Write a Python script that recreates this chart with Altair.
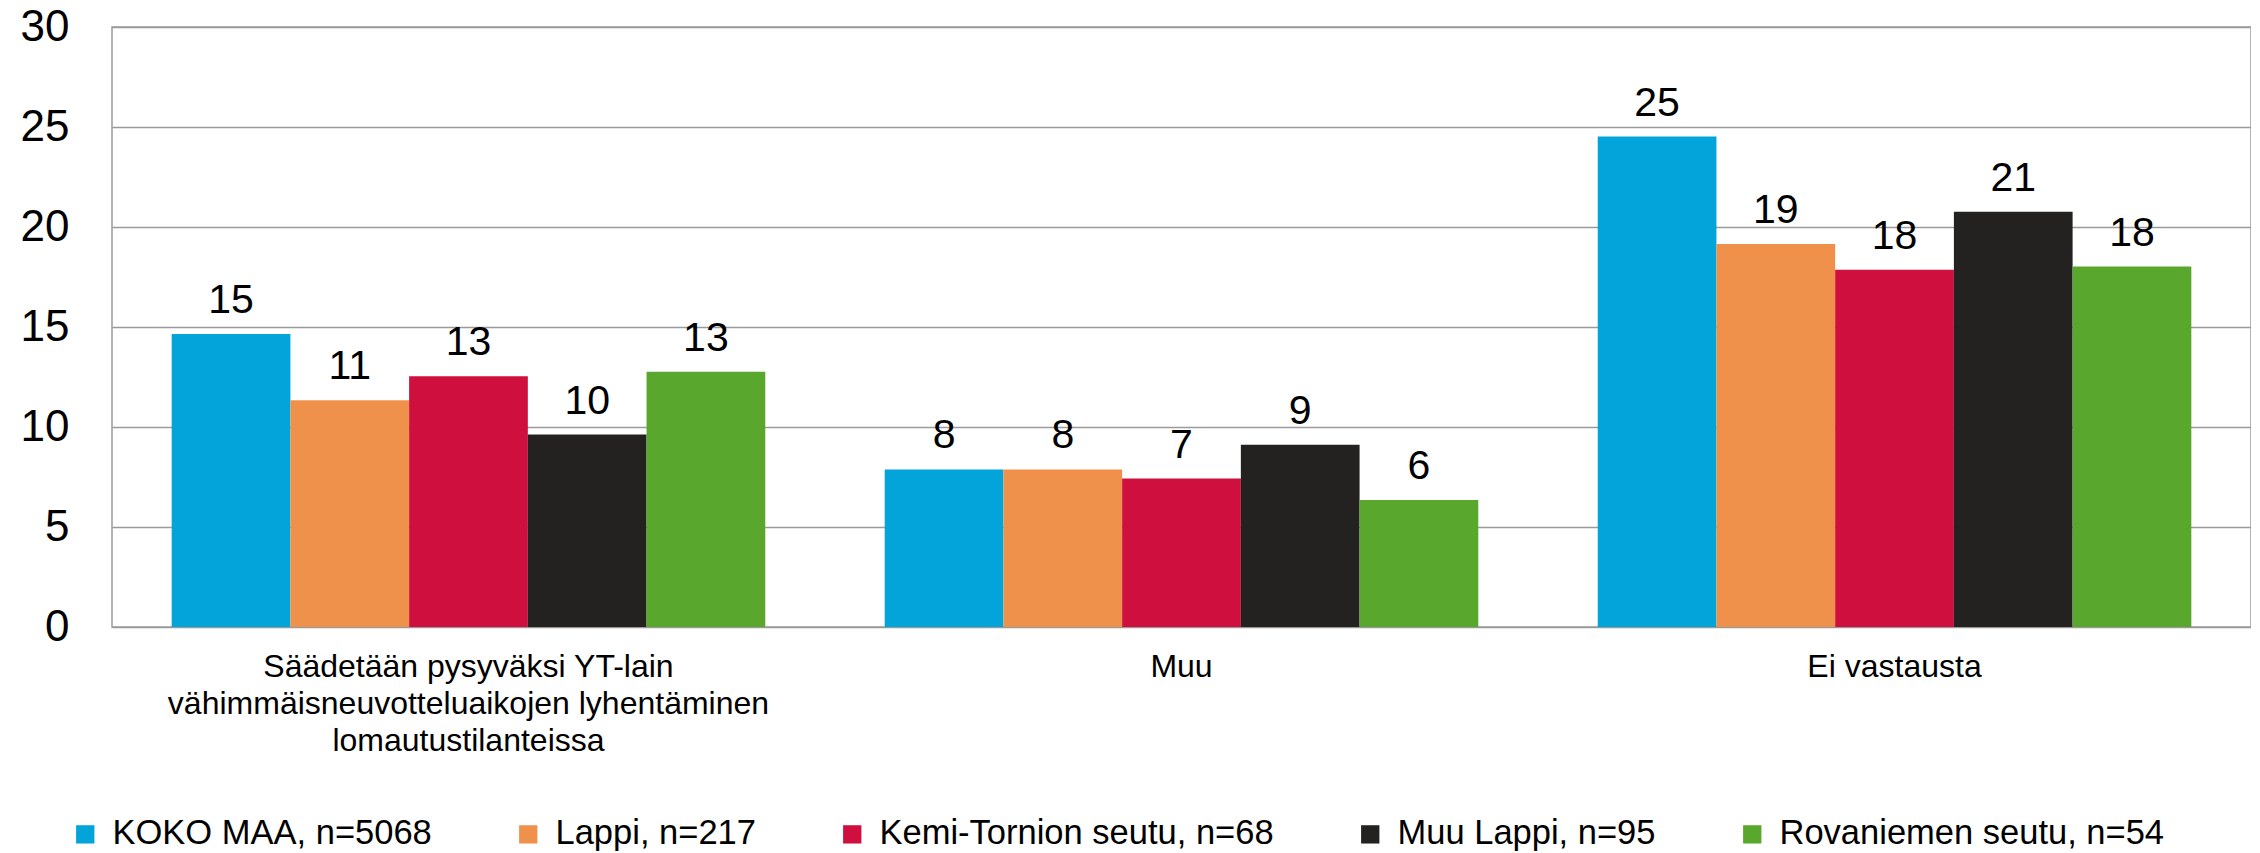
import altair as alt
import pandas as pd

categories = [
    "Säädetään pysyväksi YT-lain\nvähimmäisneuvotteluaikojen lyhentäminen\nlomautustilanteissa",
    "Muu",
    "Ei vastausta",
]
series = [
    "KOKO MAA, n=5068",
    "Lappi, n=217",
    "Kemi-Tornion seutu, n=68",
    "Muu Lappi, n=95",
    "Rovaniemen seutu, n=54",
]
colors = ["#02A4D9", "#F0914B", "#CF0F3E", "#232220", "#59A82D"]

koko_maa = [14.65, 7.88, 24.52]
lappi = [11.34, 7.88, 19.15]
kemi_tornio = [12.54, 7.42, 17.86]
muu_lappi = [9.62, 9.11, 20.76]
rovaniemi = [12.76, 6.35, 18.02]

values = [koko_maa, lappi, kemi_tornio, muu_lappi, rovaniemi]
rows = []
for s, vals in zip(series, values):
    for c, v in zip(categories, vals):
        rows.append({"category": c, "series": s, "value": v})
df = pd.DataFrame(rows)

FONT = "Liberation Sans"

x_enc = alt.X(
    "category:N",
    sort=categories,
    scale=alt.Scale(paddingInner=0.1675, paddingOuter=0.0837),
    axis=alt.Axis(
        title=None,
        labelAngle=0,
        labelFontSize=32,
        labelColor="#000000",
        labelLimit=1000,
        labelPadding=24,
        labelLineHeight=37,
        labelExpr="split(datum.label, '\\n')",
        ticks=False,
        tickSize=0,
        domain=False,
        grid=False,
        labelOverlap=False,
    ),
)
xoff_enc = alt.XOffset("series:N", sort=series)

base = alt.Chart(df)

bars = base.mark_bar(stroke=None).encode(
    x=x_enc,
    xOffset=xoff_enc,
    y=alt.Y(
        "value:Q",
        scale=alt.Scale(domain=[0, 30], nice=False),
        axis=alt.Axis(
            title=None,
            values=[0, 5, 10, 15, 20, 25, 30],
            labelFontSize=44,
            labelColor="#000000",
            labelPadding=43,
            ticks=False,
            tickSize=0,
            domain=False,
            grid=True,
            gridColor="#9a9a9a",
            gridWidth=1.5,
        ),
    ),
    color=alt.Color(
        "series:N",
        sort=series,
        scale=alt.Scale(domain=series, range=colors),
        legend=alt.Legend(
            title=None,
            orient="none",
            direction="horizontal",
            legendX=-44,
            legendY=790,
            symbolType="square",
            symbolSize=335,
            symbolStrokeWidth=0,
            symbolOpacity=1,
            labelFontSize=34.5,
            labelColor="#000000",
            labelOffset=10,
            labelLimit=1000,
            columnPadding=79,
            padding=0,
        ),
    ),
)

labels = base.mark_text(
    baseline="alphabetic", align="center", dy=-21, fontSize=41, color="#000000"
).encode(
    x=alt.X("category:N", sort=categories),
    xOffset=xoff_enc,
    y=alt.Y("value:Q"),
    text=alt.Text("value:Q", format=".0f"),
)

chart = (
    alt.layer(bars, labels)
    .properties(
        width=2139,
        height=600,
        autosize=alt.AutoSizeParams(type="none"),
        padding={"left": 104, "top": 19, "right": 0, "bottom": 226},
        background="#ffffff",
    )
    .configure(font=FONT)
    .configure_view(stroke="#9a9a9a", strokeWidth=1.5)
)

chart.save("out.html", embed_options={"renderer": "svg", "actions": False})
